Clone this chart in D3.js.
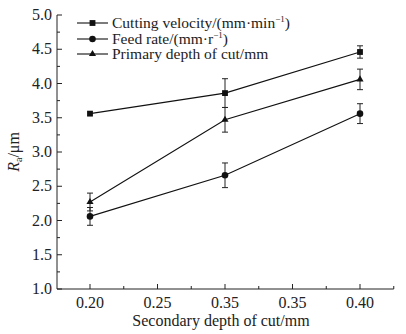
<!DOCTYPE html>
<html>
<head>
<meta charset="utf-8">
<script src="https://cdn.jsdelivr.net/npm/d3@7"></script>
</head>
<body style="margin:0">
<div id="chart"></div>
<script>
// tick labels as printed (the 3rd label really reads 0.35 in the source figure)
const xLabels = ["0.20", "0.25", "0.35", "0.35", "0.40"];
const xIndex = [0, 2, 4];

const seriesNames = ["Cutting velocity/(mm\u00b7min", "Feed rate/(mm\u00b7r", "Primary depth of cut/mm"];
const velocity = [3.56, 3.86, 4.46];
const velocityErr = [0, 0.21, 0.09];
const feed = [2.06, 2.66, 3.56];
const feedErr = [0.13, 0.18, 0.145];
const depth = [2.27, 3.47, 4.06];
const depthErr = [0.13, 0.18, 0.15];

const width = 406, height = 334;
const svg = d3.select("#chart").append("svg")
  .attr("width", width)
  .attr("height", height);

const x = d3.scaleLinear().domain([-0.5, 4.5]).range([56.25, 393.75]);
const y = d3.scaleLinear().domain([1, 5]).range([289, 15]);

function label(sel, size) {
  return sel
    .attr("font-family", "Liberation Serif, Tinos, Times New Roman, serif")
    .attr("font-size", size)
    .attr("style", `font-family: "Liberation Serif", "Tinos", "Times New Roman", serif !important; font-size: ${size}px; fill: #222;`);
}

// axes, ticks inward
const xAxis = svg.append("g").attr("transform", "translate(0,289)");
xAxis.append("line").attr("x1", 57).attr("x2", x(4.5)).attr("stroke", "#222");
xAxis.selectAll(".minor").data(d3.range(-0.5, 4.51, 0.5).filter(d => d > -0.5))
  .enter().append("line")
  .attr("x1", d => x(d)).attr("x2", d => x(d))
  .attr("y1", 0).attr("y2", d => Number.isInteger(d) ? -5 : -3)
  .attr("stroke", "#222");
label(xAxis.selectAll("text").data(xLabels).enter().append("text"), 16)
  .attr("x", (d, i) => x(i)).attr("y", 19)
  .attr("text-anchor", "middle")
  .text(d => d);

const yAxis = svg.append("g").attr("transform", "translate(57,0)");
yAxis.append("line").attr("y1", y(1)).attr("y2", y(5)).attr("stroke", "#222");
yAxis.selectAll(".tk").data(d3.range(1, 5.01, 0.25))
  .enter().append("line")
  .attr("y1", d => y(d)).attr("y2", d => y(d))
  .attr("x1", 0).attr("x2", d => (Math.abs(d * 2 - Math.round(d * 2)) < 1e-6) ? 5 : 3)
  .attr("stroke", "#222");
label(yAxis.selectAll("text").data(d3.range(1, 5.01, 0.5)).enter().append("text"), 16)
  .attr("x", -5).attr("y", d => y(d) + 5)
  .attr("text-anchor", "end")
  .text(d => d.toFixed(1));

// axis titles
label(svg.append("text"), 16)
  .attr("x", 221).attr("y", 326)
  .attr("text-anchor", "middle")
  .text("Secondary depth of cut/mm");

const yt = label(svg.append("text"), 16)
  .attr("transform", "translate(19,152) rotate(-90)")
  .attr("text-anchor", "middle");
yt.append("tspan").attr("font-style", "italic").text("R");
yt.append("tspan").attr("dy", 3).attr("font-size", 10).style("font-size", "10px").text("a");
yt.append("tspan").attr("dy", -3).text("/\u03bcm");

// series
const line = d3.line().x(d => x(d[0])).y(d => y(d[1]));
const series = [
  { vals: velocity, err: velocityErr, shape: d3.symbolSquare, size: 34 },
  { vals: feed, err: feedErr, shape: d3.symbolCircle, size: 34 },
  { vals: depth, err: depthErr, shape: d3.symbolTriangle, size: 22 }
];

series.forEach(s => {
  const pts = s.vals.map((v, i) => [xIndex[i], v, s.err[i]]);
  const g = svg.append("g");
  g.append("path").attr("d", line(pts))
    .attr("fill", "none").attr("stroke", "#111").attr("stroke-width", 1.1);
  pts.filter(p => p[2] > 0).forEach(p => {
    const cx = x(p[0]);
    g.append("line").attr("x1", cx).attr("x2", cx)
      .attr("y1", y(p[1] - p[2])).attr("y2", y(p[1] + p[2]))
      .attr("stroke", "#222");
    [p[1] - p[2], p[1] + p[2]].forEach(v => {
      g.append("line").attr("x1", cx - 3).attr("x2", cx + 3)
        .attr("y1", y(v)).attr("y2", y(v)).attr("stroke", "#222");
    });
  });
  g.selectAll(".pt").data(pts).enter().append("path")
    .attr("d", d3.symbol().type(s.shape).size(s.size))
    .attr("transform", d => `translate(${x(d[0])},${y(d[1])})`)
    .attr("fill", "#111");
});

// legend
const legendY = [23, 39, 54];
series.forEach((s, i) => {
  const g = svg.append("g").attr("transform", `translate(77,${legendY[i]})`);
  g.append("line").attr("x1", 0).attr("x2", 31).attr("stroke", "#111").attr("stroke-width", 1.1);
  g.append("path").attr("d", d3.symbol().type(s.shape).size(s.size))
    .attr("transform", "translate(15.5,0)").attr("fill", "#111");
  const t = label(g.append("text"), 15.5).attr("x", 35).attr("y", 5)
    .text(seriesNames[i]);
  if (i < 2) {
    t.append("tspan").attr("dy", -6).attr("font-size", 9).style("font-size", "9px").text("\u22121");
    t.append("tspan").attr("dy", 6).text(")");
  }
});
</script>
</body>
</html>
